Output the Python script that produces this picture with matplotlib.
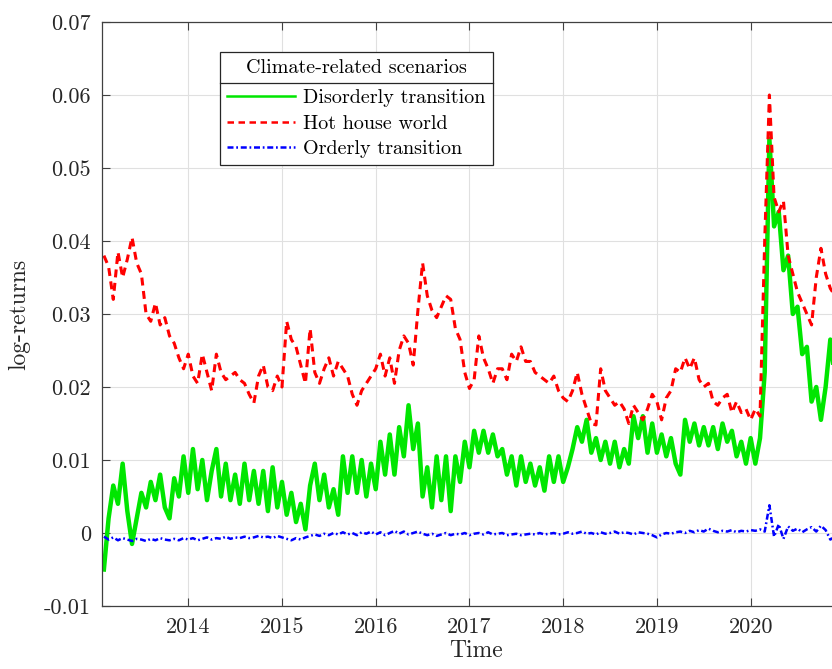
import matplotlib.pyplot as plt
from matplotlib.lines import Line2D
import numpy as np

plt.rcParams['font.family'] = 'cmr10'
plt.rcParams['mathtext.fontset'] = 'cm'
plt.rcParams['axes.unicode_minus'] = False

# one value every 0.05 years from 2013.10, in units of 1e-3
t0 = 2013.10
step = 0.05

disorderly = [
    -5.0, 2.0, 6.5, 4.0, 9.5, 3.0, -1.5, 2.0, 5.5, 3.5, 7.0, 4.5, 8.0, 3.5, 2.0, 7.5, 5.0, 10.5,
    5.5, 11.5, 6.0, 10.0, 4.5, 8.5, 11.5, 5.0, 9.5, 4.5, 8.0, 4.0, 9.5, 4.5, 8.5, 4.0, 8.5, 3.0, 9.0, 3.5,
    7.0, 2.5, 5.5, 1.5, 4.0, 0.5, 6.5, 9.5, 4.5, 8.0, 3.5, 6.0, 2.5, 10.5, 5.5, 10.5, 5.5, 10.0, 5.0, 9.5,
    6.0, 12.5, 8.0, 13.5, 8.0, 14.5, 10.5, 17.5, 11.5, 15.0, 5.0, 9.0, 3.5, 10.5, 4.5, 10.5, 3.0, 10.5, 7.0, 12.5,
    9.0, 14.0, 11.0, 14.0, 11.0, 13.5, 10.5, 11.5, 8.0, 10.5, 6.5, 10.5, 7.0, 9.5, 6.5, 9.0, 5.8, 10.5, 7.0, 10.5,
    7.0, 9.0, 11.5, 14.5, 12.5, 15.5, 11.0, 13.0, 10.0, 12.5, 9.5, 12.5, 9.0, 11.5, 9.5, 16.0, 13.0, 16.0, 11.0, 15.0,
    11.0, 13.5, 10.5, 13.0, 9.5, 8.0, 15.5, 12.5, 15.0, 12.0, 14.5, 12.0, 14.5, 11.5, 15.0, 12.5, 14.0, 10.5, 12.5, 9.5,
    13.0, 9.5, 13.0, 22.0, 54.0, 42.0, 44.0, 36.0, 38.0, 30.0, 31.0, 24.5, 25.5, 18.0, 20.0, 15.5, 20.0, 26.5, 21.0,
]

hot_house = [
    38.0, 36.5, 32.0, 38.5, 35.0, 37.5, 40.5, 37.0, 35.5, 30.0, 29.0, 31.5, 28.5, 29.5, 27.0, 26.0, 24.0, 22.5,
    24.5, 21.5, 20.5, 24.5, 22.0, 19.5, 24.5, 22.0, 21.0, 21.5, 22.0, 21.0, 20.5, 19.0, 17.8, 21.5, 23.0, 20.0, 19.5, 21.5,
    20.0, 29.0, 26.5, 25.5, 23.0, 20.5, 28.0, 22.0, 20.5, 22.5, 24.0, 21.5, 23.5, 22.5, 21.5, 19.0, 17.5, 19.5, 20.5, 21.5,
    22.5, 24.5, 21.5, 24.0, 20.5, 25.0, 27.0, 26.0, 23.0, 30.5, 37.0, 32.5, 30.5, 29.5, 31.0, 32.5, 32.0, 28.0, 26.5, 22.0,
    19.8, 21.0, 27.0, 24.0, 22.5, 20.5, 22.5, 22.5, 21.0, 24.5, 23.5, 25.5, 23.5, 23.5, 22.0, 21.5, 21.0, 20.5, 21.5, 19.5,
    18.5, 18.0, 19.5, 22.0, 19.0, 17.0, 15.0, 14.8, 22.5, 19.5, 18.5, 17.5, 18.0, 17.0, 15.0, 17.5, 16.5, 15.5, 17.0, 19.0,
    18.0, 15.5, 18.5, 19.5, 22.5, 22.0, 24.0, 22.5, 24.0, 21.0, 20.0, 20.5, 18.0, 17.5, 18.5, 19.0, 16.5, 18.0, 16.5, 17.0,
    15.5, 17.0, 16.0, 40.0, 60.0, 46.0, 44.0, 45.5, 38.0, 35.5, 33.0, 31.5, 30.0, 28.5, 35.0, 39.0, 35.5, 33.5, 32.5,
]

orderly = [
    -0.5, -0.9, -0.6, -1.0, -0.7, -0.9, -1.1, -0.8, -0.9, -1.1, -0.8, -1.0, -0.7, -0.9, -1.0, -0.8, -1.0, -0.7,
    -0.9, -0.7, -1.0, -0.8, -0.6, -0.9, -0.7, -0.8, -0.5, -0.8, -0.6, -0.7, -0.5, -0.7, -0.6, -0.4, -0.6, -0.5, -0.7, -0.4,
    -0.6, -0.8, -1.0, -0.7, -0.9, -0.6, -0.4, -0.2, -0.4, -0.1, -0.3, 0.0, -0.2, 0.1, -0.2, 0.0, -0.3, 0.1, -0.1, 0.2,
    -0.2, 0.1, -0.3, 0.0, 0.3, -0.1, 0.2, -0.2, 0.0, 0.2, -0.1, -0.3, -0.1, -0.4, -0.2, 0.0, -0.3, -0.1, -0.2, 0.0,
    -0.3, -0.1, 0.0, -0.2, 0.1, -0.2, -0.1, 0.0, -0.3, -0.2, -0.1, -0.3, -0.2, -0.1, -0.2, 0.0, -0.2, -0.1, 0.0, -0.2,
    -0.1, 0.1, -0.1, 0.0, 0.2, -0.1, 0.0, -0.2, 0.1, -0.1, 0.0, 0.2, -0.1, 0.1, 0.0, -0.2, 0.1, 0.0, -0.1, -0.3,
    -0.6, -0.2, 0.0, -0.1, 0.1, 0.2, 0.0, 0.3, 0.1, 0.4, 0.2, 0.6, 0.3, 0.1, 0.3, 0.2, 0.4, 0.1, 0.3, 0.2,
    0.4, 0.3, 0.5, 0.2, 3.8, -0.5, 1.2, -0.8, 0.9, 0.3, 0.6, 0.1, 0.5, 0.8, 0.2, 1.0, 0.4, -0.9, -0.5,
]

year_ticks = [2014, 2015, 2016, 2017, 2018, 2019, 2020]
y_ticks = [-0.01, 0, 0.01, 0.02, 0.03, 0.04, 0.05, 0.06, 0.07]
y_tick_labels = ['-0.01', '0', '0.01', '0.02', '0.03', '0.04', '0.05', '0.06', '0.07']

t = t0 + step * np.arange(len(disorderly))

fig = plt.figure(figsize=(8.32, 6.69), dpi=100)
ax = fig.add_axes([102.3 / 832, 63 / 669, 747.7 / 832, 584 / 669])

ax.plot(t, np.array(disorderly) / 1000, color='#00e600', lw=3.2, label='Disorderly transition')
ax.plot(t, np.array(hot_house) / 1000, color='#ff0000', lw=2.2, ls='--', dashes=(2.6, 1.8),
        label='Hot house world')
ax.plot(t, np.array(orderly) / 1000, color='#0000ff', lw=1.8, ls='-.', dashes=(2.4, 1.1, 0.7, 1.1),
        label='Orderly transition')

ax.set_xlim(2013.083, 2021.06)
ax.set_ylim(-0.01, 0.07)
ax.set_xticks(year_ticks)
ax.set_xticklabels([str(y) for y in year_ticks])
ax.set_yticks(y_ticks)
ax.set_yticklabels(y_tick_labels)
ax.grid(True, color='#e0e0e0', lw=0.8)
ax.set_axisbelow(True)
ax.tick_params(direction='in', top=True, right=True, length=6, width=0.8, color='#404040',
               labelsize=16, labelcolor='#262626', pad=8)
for s in ax.spines.values():
    s.set_color('#404040')
    s.set_linewidth(0.9)

ax.set_xlabel('Time', fontsize=17, color='#262626', labelpad=2)
ax.set_ylabel('log-returns', fontsize=17, color='#262626', labelpad=10)

leg = ax.legend(title='Climate-related scenarios', loc='upper left', bbox_to_anchor=(0.157, 0.949),
                borderaxespad=0, fontsize=14.5, title_fontsize=14.5, fancybox=False,
                edgecolor='#262626', framealpha=1, handlelength=3.4, labelspacing=0.37,
                handletextpad=0.4, borderpad=0.35)
leg.get_frame().set_linewidth(0.9)
leg._legend_box.sep = 9
for h in leg.legend_handles:
    h.set_linewidth(1.8)

# separator line under the legend title, as MATLAB draws it
fig.canvas.draw()
fr = leg.get_frame().get_window_extent()
tb = leg.get_title().get_window_extent()
hb = leg._legend_handle_box.get_window_extent(fig.canvas.get_renderer())
ysep = (tb.y0 + hb.y1) / 2
inv = fig.transFigure.inverted()
(x0, y0) = inv.transform((fr.x0, ysep))
(x1, _) = inv.transform((fr.x1, ysep))
fig.add_artist(Line2D([x0, x1], [y0, y0], transform=fig.transFigure, color='#262626', lw=0.9))

fig.savefig('out.png', dpi=100)
